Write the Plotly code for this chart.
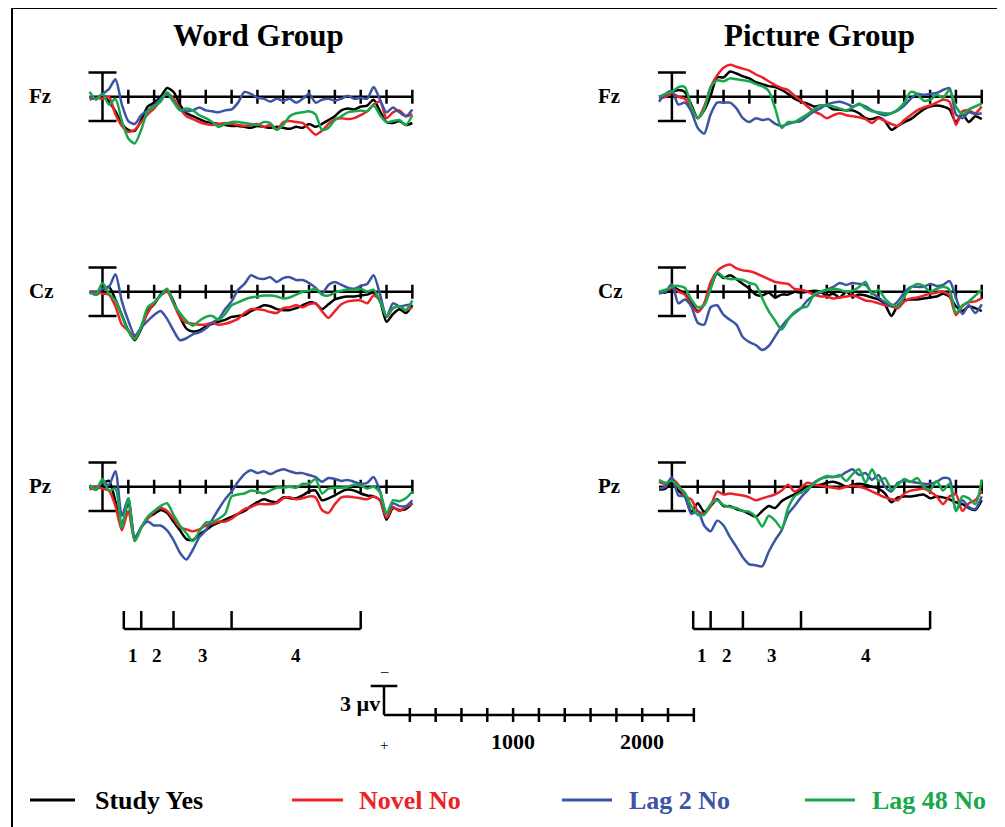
import plotly.graph_objects as go

# ---------------- data (µV, positive plotted downward), sampled every 50 ms ----------------
TIMES = list(range(-100, 2401, 50))
TICK_TIMES = [200, 400, 600, 800, 1000, 1200, 1400, 1600, 1800, 2000, 2200, 2400]
SCALE_TICKS = [200, 400, 600, 800, 1000, 1200, 1400, 1600, 1800, 2000, 2200, 2400]
EPOCHS = [165, 300, 550, 1000, 2000]
EPOCH_LABELS = ["1", "2", "3", "4"]
CONDITIONS = ["Study Yes", "Novel No", "Lag 2 No", "Lag 48 No"]
COLORS = ["#000000", "#ec2227", "#3b54a5", "#16a84b"]
GROUPS = ["Word Group", "Picture Group"]
CHANNELS = ["Fz", "Cz", "Pz"]

WORD_FZ_STUDY = [0.0, 0.2, -0.2, 0.5, 1.5, 2.8, 3.4, 3.5, 2.4, 1.0,
                 0.6, 0.0, -0.9, -0.5, 0.8, 1.7, 2.0, 2.3, 2.6, 2.7,
                 2.8, 2.9, 3.0, 3.0, 3.1, 3.2, 3.0, 3.1, 3.2, 3.1,
                 3.2, 3.3, 3.1, 3.2, 2.8, 3.1, 2.8, 2.4, 2.0, 1.4,
                 1.2, 1.3, 1.0, 0.9, 0.3, 1.5, 2.6, 2.7, 2.5, 2.9, 2.7]
WORD_FZ_NOVEL = [0.3, 0.1, 0.2, 0.0, 1.8, 3.0, 3.6, 3.4, 2.6, 1.8,
                 1.2, 0.4, -0.4, 0.2, 1.2, 2.0, 2.3, 2.6, 2.8, 2.9,
                 2.8, 2.7, 2.8, 2.9, 3.0, 2.9, 2.8, 3.1, 2.9, 3.4,
                 2.6, 2.5, 2.6, 2.7, 3.3, 3.9, 3.5, 2.8, 2.3, 2.2,
                 2.3, 2.2, 1.9, 1.5, 0.8, 0.5, 2.2, 1.6, 1.4, 2.0, 1.8]
WORD_FZ_LAG2 = [0.0, 0.2, -0.3, -0.8, -1.8, 0.8, 2.5, 2.8, 1.9, 1.4,
                0.9, 0.2, -0.3, 0.5, 1.3, 1.5, 1.4, 1.1, 1.4, 1.5,
                1.6, 1.4, 1.3, 0.6, -0.5, -0.3, 0.1, 0.2, 0.5, 0.2,
                0.4, 0.2, 0.6, 0.2, -0.3, 0.6, 0.3, 0.2, 0.4, 0.2,
                -0.1, 0.2, 0.1, 0.2, -1.0, 0.3, 1.6, 1.1, 1.6, 2.0, 1.3]
WORD_FZ_LAG48 = [-0.5, 0.3, -0.3, 0.8, 0.2, 2.5, 4.3, 4.8, 3.4, 1.5,
                 1.0, 0.5, -0.5, 0.5, 1.4, 1.2, 1.4, 1.9, 2.2, 2.6,
                 3.1, 2.8, 2.6, 2.6, 2.7, 2.8, 2.9, 2.6, 2.7, 3.4,
                 2.9, 2.0, 1.7, 1.6, 1.5, 1.8, 3.4, 3.2, 2.4, 2.0,
                 1.6, 1.5, 1.4, 1.5, 0.9, 1.9, 2.6, 2.5, 2.4, 2.9, 1.9]

WORD_CZ_STUDY = [0.0, 0.3, -0.2, -0.5, 0.8, 2.4, 4.0, 5.0, 3.8, 2.0,
                 1.3, 0.3, -0.2, 1.0, 2.6, 3.8, 4.1, 4.0, 3.6, 3.3,
                 3.1, 2.9, 2.6, 2.5, 2.4, 2.0, 1.7, 1.4, 1.5, 1.8,
                 1.9, 1.9, 1.7, 1.4, 1.1, 1.2, 1.8, 1.3, 0.8, 0.6,
                 0.5, 0.5, 0.4, 0.3, 0.1, 1.0, 3.1, 2.3, 1.8, 2.2, 1.4]
WORD_CZ_NOVEL = [0.2, 0.0, 0.2, 0.3, 1.5, 3.4, 4.0, 4.7, 3.6, 2.2,
                 1.2, 0.4, 0.0, 1.2, 2.6, 3.2, 3.3, 3.4, 3.4, 3.2,
                 3.4, 3.3, 3.1, 2.8, 2.2, 1.8, 1.8, 1.9, 2.1, 2.2,
                 1.7, 1.6, 1.4, 1.6, 1.3, 1.2, 2.0, 2.7, 2.0, 1.3,
                 1.0, 0.9, 0.9, 1.2, 0.4, 0.9, 2.6, 1.7, 1.5, 1.9, 1.6]
WORD_CZ_LAG2 = [0.0, 0.2, -0.3, -0.5, -1.8, 1.0, 3.0, 4.5, 3.7, 3.0,
                2.4, 2.0, 2.8, 4.0, 5.0, 4.8, 4.4, 4.2, 3.8, 3.2,
                2.8, 1.8, 1.0, -0.2, -0.8, -1.7, -1.4, -1.3, -1.5, -1.0,
                -1.4, -1.5, -1.2, -1.2, -0.9, -0.4, 0.2, -0.7, -1.0, -0.7,
                -0.4, -0.3, -0.6, -0.8, -1.7, 0.3, 2.6, 1.2, 1.5, 1.4, 1.3]
WORD_CZ_LAG48 = [0.1, 0.3, -0.9, 0.2, 0.9, 2.5, 4.1, 4.9, 3.6, 1.6,
                 1.1, 0.4, -0.3, 1.2, 2.2, 3.0, 3.5, 3.0, 2.6, 2.5,
                 2.9, 2.3, 1.4, 1.1, 0.8, 0.6, 0.5, 0.4, 0.4, 0.5,
                 0.7, 0.6, 0.3, 0.0, -0.1, -0.3, 0.3, 0.4, 0.1, -0.1,
                 -0.2, -0.2, -0.3, 0.0, -0.2, 1.0, 2.5, 1.7, 1.5, 1.9, 0.9]

WORD_PZ_STUDY = [0.0, 0.3, -0.3, -0.6, 1.5, 4.0, 1.5, 5.3, 4.2, 3.2,
                 2.8, 2.4, 2.7, 3.6, 4.5, 5.4, 5.5, 4.9, 4.5, 4.0,
                 3.7, 3.4, 3.1, 2.8, 2.5, 2.0, 1.6, 1.3, 1.5, 1.6,
                 1.1, 1.2, 1.2, 0.9, 0.5, 0.4, 1.4, 1.2, 0.9, 0.5,
                 0.3, 0.4, 0.7, 0.9, 1.0, 1.4, 3.4, 2.2, 2.4, 2.3, 1.7]
WORD_PZ_NOVEL = [0.3, 0.0, 0.2, 0.4, 2.0, 4.5, 2.5, 5.6, 4.2, 3.3,
                 2.6, 2.2, 2.5, 3.3, 4.2, 4.4, 4.6, 4.4, 4.0, 3.8,
                 3.6, 3.6, 3.3, 2.8, 2.3, 2.1, 1.8, 1.8, 1.8, 1.7,
                 1.2, 1.1, 1.3, 1.2, 1.0, 1.1, 2.4, 2.7, 1.8, 1.1,
                 1.0, 1.1, 1.2, 1.3, 1.0, 1.4, 3.2, 2.1, 2.5, 2.1, 1.7]
WORD_PZ_LAG2 = [0.0, 0.2, -0.4, -0.2, -1.6, 3.0, 1.2, 5.3, 4.2, 3.6,
                4.0, 4.0, 4.5, 5.5, 6.8, 7.5, 6.5, 5.2, 4.5, 3.4,
                2.3, 1.3, 0.5, -0.5, -1.3, -1.7, -1.4, -1.6, -1.3, -1.6,
                -1.8, -1.6, -1.4, -1.4, -1.2, -1.0, -0.5, -0.9, -0.8, -0.6,
                -0.7, -0.5, -0.3, -0.4, -1.0, 0.5, 2.8, 1.7, 2.0, 2.0, 1.4]
WORD_PZ_LAG48 = [-0.2, 0.3, -0.8, 0.4, 0.2, 4.2, 1.2, 5.6, 4.2, 3.1,
                 2.5, 2.0, 1.7, 2.9, 4.0, 4.8, 5.6, 4.6, 3.7, 3.6,
                 3.3, 2.8, 1.0, 0.8, 0.7, 0.4, 0.5, 0.7, 0.4, 0.1,
                 0.1, 0.0, 0.1, -0.3, -0.3, -0.8, 0.7, 0.2, 0.1, 0.1,
                 0.0, -0.2, -0.1, 0.2, 0.0, 0.6, 2.8, 1.4, 1.5, 1.2, 0.5]

PIC_FZ_STUDY = [0.0, -0.2, -0.5, -0.7, -0.5, 0.8, 2.2, 1.4, -0.1, -2.0,
                -2.0, -2.6, -2.4, -2.1, -1.9, -1.5, -1.3, -1.1, -1.0, -0.7,
                -0.3, 0.2, 0.5, 0.7, 1.0, 0.9, 0.9, 1.3, 1.3, 1.4,
                1.4, 1.7, 2.2, 2.3, 2.1, 2.5, 3.4, 3.0, 2.6, 2.3,
                1.8, 1.3, 1.0, 0.9, 1.0, 1.3, 2.6, 1.8, 2.6, 2.0, 2.3]
PIC_FZ_NOVEL = [0.2, 0.0, -0.4, 0.0, 0.2, 1.2, 2.2, 1.0, -1.0, -2.2,
                -3.0, -3.3, -3.1, -2.9, -2.7, -2.3, -2.0, -1.6, -1.2, -0.9,
                -0.7, -0.1, 0.4, 1.0, 1.5, 1.8, 2.2, 1.9, 1.7, 1.9,
                2.0, 2.1, 2.3, 2.7, 2.2, 2.5, 2.8, 3.0, 2.4, 1.9,
                1.4, 1.1, 0.9, 0.6, 0.3, 0.5, 2.9, 1.5, 1.4, 1.7, 1.0]
PIC_FZ_LAG2 = [0.5, -0.3, -0.6, 0.8, 0.6, 1.5, 3.2, 3.8, 1.8, 0.6,
               0.6, 0.6, 1.2, 2.2, 2.6, 2.2, 2.4, 2.3, 2.8, 3.0,
               2.8, 2.6, 2.5, 2.0, 1.5, 1.2, 0.8, 0.6, 0.5, 0.7,
               1.0, 0.8, 1.0, 1.4, 1.7, 1.9, 1.7, 1.4, 0.9, 0.2,
               -0.3, -0.2, -0.3, -0.4, -0.7, -0.9, 1.8, 2.2, 1.6, 1.8, 1.7]
PIC_FZ_LAG48 = [0.0, -0.3, -0.5, -1.0, -1.0, 1.0, 2.2, 1.3, -1.0, -1.7,
                -1.6, -1.9, -1.8, -1.7, -1.6, -1.3, -1.1, -0.6, 1.2, 3.2,
                2.6, 2.6, 2.2, 1.8, 1.3, 0.9, 0.9, 1.0, 1.2, 1.4,
                1.1, 0.7, 1.2, 1.5, 1.6, 1.7, 1.7, 1.3, 0.6, -0.5,
                -0.3, 0.4, 0.3, -0.2, 0.1, -0.7, 1.0, 1.8, 1.3, 1.0, 0.7]

PIC_CZ_STUDY = [0.0, 0.1, -0.5, -0.2, 0.2, 1.2, 2.0, 1.3, -0.4, -1.9,
                -1.4, -1.7, -1.3, -0.8, -0.3, 0.3, 0.4, 0.1, 0.6, 0.3,
                0.3, 0.0, 0.1, 0.0, -0.1, 0.0, 0.4, 0.2, 0.6, 0.0,
                0.5, 0.3, 0.4, 0.6, 0.8, 1.3, 2.5, 1.4, 0.9, 0.8,
                0.8, 0.7, 0.6, 0.5, 0.2, 0.5, 1.5, 2.0, 1.5, 1.7, 2.0]
PIC_CZ_NOVEL = [0.1, -0.1, -0.4, 0.0, 0.3, 1.4, 2.1, 1.2, -1.0, -2.1,
                -2.6, -2.8, -2.4, -2.2, -2.1, -1.9, -1.6, -1.3, -1.0, -0.9,
                -0.8, -0.3, -0.2, 0.0, 0.3, 0.5, 0.5, 0.7, 0.6, 0.5,
                0.4, 0.6, 0.9, 1.0, 1.2, 1.4, 1.5, 1.7, 1.0, 0.7,
                0.6, 0.4, 0.2, 0.1, 0.0, 0.4, 2.4, 1.5, 1.1, 1.0, 0.7]
PIC_CZ_LAG2 = [0.2, 0.0, -0.8, 1.2, 0.8, 1.5, 3.2, 3.4, 1.6, 1.4,
               2.4, 2.9, 3.4, 4.7, 5.2, 5.5, 6.0, 5.6, 4.6, 3.6,
               2.8, 2.2, 1.7, 0.9, 0.4, 0.1, -0.2, -0.5, -0.9, -0.7,
               -0.9, -0.8, -0.7, 0.1, 0.6, 1.1, 1.5, 1.0, 0.1, -0.5,
               -0.5, -0.5, -0.8, -0.6, -0.7, -1.1, 0.6, 2.3, 1.4, 2.2, 1.3]
PIC_CZ_LAG48 = [0.0, -0.2, -0.5, -0.6, -0.4, 0.8, 1.6, 1.4, -0.3, -2.0,
                -1.5, -1.3, -1.3, -1.2, -0.9, -0.7, 0.7, 2.0, 3.0, 3.9,
                2.9, 2.1, 1.7, 1.5, 0.3, 0.0, -0.2, -0.3, -0.2, 0.0,
                -0.1, -0.5, -1.0, 0.3, -0.2, 0.7, 1.3, 1.5, 0.5, -0.4,
                -0.8, -0.6, 0.0, -0.3, -0.5, -0.2, 2.2, 1.4, 1.0, 0.4, -0.2]

PIC_PZ_STUDY = [0.3, 0.2, -0.5, 0.4, 1.0, 2.6, 1.7, 2.6, 2.0, 1.3,
                2.0, 2.0, 2.3, 2.5, 2.8, 3.1, 2.5, 2.0, 2.2, 1.5,
                1.1, 0.8, 0.4, 0.0, -0.1, -0.2, -0.4, -0.5, -0.3, 0.0,
                -0.2, -0.3, -0.2, 0.0, 0.2, 0.7, 1.6, 1.1, 1.0, 1.0,
                0.9, 0.8, 1.2, 1.0, 1.1, 1.3, 1.6, 1.8, 2.2, 2.4, 1.4]
PIC_PZ_NOVEL = [-0.5, -0.3, -0.8, -0.2, 1.0, 1.3, 2.5, 2.8, 2.0, 0.5,
                0.8, 0.7, 0.8, 0.9, 1.1, 1.4, 1.2, 1.0, 0.8, 0.4,
                -0.2, 0.5, 0.1, -0.4, -0.2, -0.1, 0.0, 0.1, 0.2, 0.0,
                -0.1, 0.0, 0.2, 0.5, 0.8, 1.1, 1.3, 1.4, 0.7, 0.4,
                0.3, 0.2, 0.5, 1.0, 1.8, 1.0, 0.8, 2.5, 1.7, 1.4, 0.4]
PIC_PZ_LAG2 = [0.2, 0.0, -1.0, 0.9, 1.0, 2.8, 2.5, 4.0, 4.6, 3.5,
               4.0, 5.2, 6.2, 7.3, 8.0, 8.1, 8.2, 6.7, 5.5, 4.5,
               2.8, 2.0, 1.1, 0.4, -0.4, -0.8, -1.0, -1.0, -1.1, -1.5,
               -1.8, -1.2, -1.4, -0.7, -1.2, 0.0, 0.5, -0.4, -0.6, -0.5,
               -0.4, -0.3, -0.3, -0.5, -0.9, -0.8, 2.5, 1.4, 2.1, 2.3, 1.0]
PIC_PZ_LAG48 = [-0.7, -0.4, -0.6, 0.0, 0.6, 2.0, 2.9, 2.9, 1.8, 1.4,
                1.9, 2.1, 2.2, 2.5, 2.6, 3.1, 4.1, 3.0, 3.5, 4.3,
                2.2, 1.0, 0.6, 0.2, -0.3, -0.8, -1.1, -1.0, -1.2, -0.6,
                -1.3, -1.8, -0.4, -1.8, -0.6, -0.9, 0.3, -0.2, -0.8, -0.5,
                -0.9, 0.0, 0.3, -0.6, 0.4, -0.3, 2.5, 1.0, 1.2, 1.8, -0.7]

PANEL_DATA = [
    [WORD_FZ_STUDY, WORD_FZ_NOVEL, WORD_FZ_LAG2, WORD_FZ_LAG48],
    [WORD_CZ_STUDY, WORD_CZ_NOVEL, WORD_CZ_LAG2, WORD_CZ_LAG48],
    [WORD_PZ_STUDY, WORD_PZ_NOVEL, WORD_PZ_LAG2, WORD_PZ_LAG48],
    [PIC_FZ_STUDY, PIC_FZ_NOVEL, PIC_FZ_LAG2, PIC_FZ_LAG48],
    [PIC_CZ_STUDY, PIC_CZ_NOVEL, PIC_CZ_LAG2, PIC_CZ_LAG48],
    [PIC_PZ_STUDY, PIC_PZ_NOVEL, PIC_PZ_LAG2, PIC_PZ_LAG48],
]

# ---------------- layout geometry (page pixels; the page body has an 8px margin) ----------------
OFF = 8
W, H = 1005 - OFF, 827 - OFF
KX = 0.1291   # px per ms
KY = 9.7      # px per µV
XR = [-150, 2450]
YR = [9.5, -4.5]      # reversed: negative up
COL_T0 = [102.5, 671.9]
ROW_BASE = [96.8, 291.7, 486.7]
SCALE_T0, SCALE_BASE = 384.0, 715.0
FONT = "Liberation Serif"


def fx(p):
    return (p - OFF) / W


def fy(p):
    return 1 - (p - OFF) / H


fig = go.Figure()
layout_axes = {}


def add_axes(idx, t0, base, yr):
    sx = "" if idx == 1 else str(idx)
    layout_axes["xaxis" + sx] = dict(domain=[fx(t0 + XR[0] * KX), fx(t0 + XR[1] * KX)],
                                     range=XR, visible=False, anchor="y" + sx, fixedrange=True)
    layout_axes["yaxis" + sx] = dict(domain=[fy(base + yr[0] * KY), fy(base + yr[1] * KY)],
                                     range=yr, visible=False, anchor="x" + sx, fixedrange=True)
    return "x" + sx, "y" + sx


axis_refs = []
idx = 1
for c in range(2):
    for r in range(3):
        xa, ya = add_axes(idx, COL_T0[c], ROW_BASE[r], YR)
        axis_refs.append((xa, ya))
        idx += 1

BLK = dict(color="black", width=2.5)

for p, (xa, ya) in enumerate(axis_refs):
    # baseline axis
    fig.add_trace(go.Scatter(x=[-100, 2400], y=[0, 0], mode="lines", line=BLK,
                             xaxis=xa, yaxis=ya, hoverinfo="skip", showlegend=False))
    fig.add_trace(go.Scatter(x=TICK_TIMES, y=[0] * len(TICK_TIMES), mode="markers",
                             marker=dict(symbol="line-ns", size=10, line=dict(color="black", width=2.5)),
                             xaxis=xa, yaxis=ya, hoverinfo="skip", showlegend=False))
    # amplitude bar at stimulus onset
    fig.add_trace(go.Scatter(x=[0, 0], y=[-2.5, 2.5], mode="lines+markers", line=BLK,
                             marker=dict(symbol="line-ew", size=20, line=dict(color="black", width=2.5)),
                             xaxis=xa, yaxis=ya, hoverinfo="skip", showlegend=False))
    for k, series in enumerate(PANEL_DATA[p]):
        fig.add_trace(go.Scatter(x=TIMES, y=series, mode="lines", name=CONDITIONS[k],
                                 line=dict(color=COLORS[k], width=2.5, shape="spline", smoothing=0.7),
                                 xaxis=xa, yaxis=ya, showlegend=False))

# scale bar axes
xs, ys = add_axes(7, SCALE_T0, SCALE_BASE, [4.0, -4.5])
fig.add_trace(go.Scatter(x=[0, 2400], y=[0, 0], mode="lines", line=BLK,
                         xaxis=xs, yaxis=ys, hoverinfo="skip", showlegend=False))
fig.add_trace(go.Scatter(x=SCALE_TICKS, y=[0] * len(SCALE_TICKS), mode="markers",
                         marker=dict(symbol="line-ns", size=10, line=dict(color="black", width=2.5)),
                         xaxis=xs, yaxis=ys, hoverinfo="skip", showlegend=False))
fig.add_trace(go.Scatter(x=[0, 0], y=[0, -3], mode="lines", line=BLK,
                         xaxis=xs, yaxis=ys, hoverinfo="skip", showlegend=False))
fig.add_trace(go.Scatter(x=[0], y=[-3], mode="markers",
                         marker=dict(symbol="line-ew", size=19, line=dict(color="black", width=2.5)),
                         xaxis=xs, yaxis=ys, hoverinfo="skip", showlegend=False))

annotations = []
shapes = []


def text(x, y, s, size, color="black", xanchor="center", xref="paper", yref="paper", bold=True):
    annotations.append(dict(x=x, y=y, xref=xref, yref=yref, text=("<b>%s</b>" % s) if bold else s,
                            showarrow=False, xanchor=xanchor, yanchor="middle",
                            font=dict(family=FONT, size=size, color=color)))


# titles
text(fx(258), fy(36), GROUPS[0], 31)
text(fx(819), fy(36), GROUPS[1], 31)
# channel labels
for c in range(2):
    for r in range(3):
        text(fx(27 + 569 * c), fy(ROW_BASE[r] - 1), CHANNELS[r], 21, xanchor="left")

# epoch brackets under Pz panels
for xa in ["x3", "x6"]:
    shapes.append(dict(type="line", xref=xa, yref="paper", x0=EPOCHS[0], x1=EPOCHS[-1],
                       y0=fy(629), y1=fy(629), line=dict(color="black", width=2.5)))
    for e in EPOCHS:
        shapes.append(dict(type="line", xref=xa, yref="paper", x0=e, x1=e,
                           y0=fy(629), y1=fy(611), line=dict(color="black", width=2.5)))
    for i, lab in enumerate(EPOCH_LABELS):
        text((EPOCHS[i] + EPOCHS[i + 1]) / 2, fy(655), lab, 19, xref=xa)

# scale-bar labels
text(fx(382), fy(703), "3 µv", 22, xanchor="right")
text(0, fy(671), "–", 15, xref=xs, bold=False)
text(0, fy(745), "+", 15, xref=xs, bold=False)
text(1000, fy(741), "1000", 22, xref=xs)
text(2000, fy(741), "2000", 22, xref=xs)

# legend
LEG_LINE_X = [(30, 75), (292, 343), (562, 612), (805, 855)]
LEG_TEXT_X = [93, 357, 627, 870]
for k in range(4):
    shapes.append(dict(type="line", xref="paper", yref="paper",
                       x0=fx(LEG_LINE_X[k][0]), x1=fx(LEG_LINE_X[k][1]), y0=fy(800), y1=fy(800),
                       line=dict(color=COLORS[k], width=3)))
    text(fx(LEG_TEXT_X[k]), fy(800), CONDITIONS[k], 26, color=COLORS[k], xanchor="left")

# frame
for (x0, y0, x1, y1) in [(12, 8, 1002, 8), (12, 8, 12, 840), (1002, 8, 1002, 840)]:
    shapes.append(dict(type="line", xref="paper", yref="paper", x0=fx(x0), x1=fx(x1),
                       y0=fy(y0), y1=fy(y1), line=dict(color="black", width=2)))

fig.update_layout(width=W, height=H, autosize=False, margin=dict(l=0, r=0, t=0, b=0),
                  paper_bgcolor="white", plot_bgcolor="rgba(0,0,0,0)", showlegend=False,
                  annotations=annotations, shapes=shapes, **layout_axes)

fig.write_html("out.html")
